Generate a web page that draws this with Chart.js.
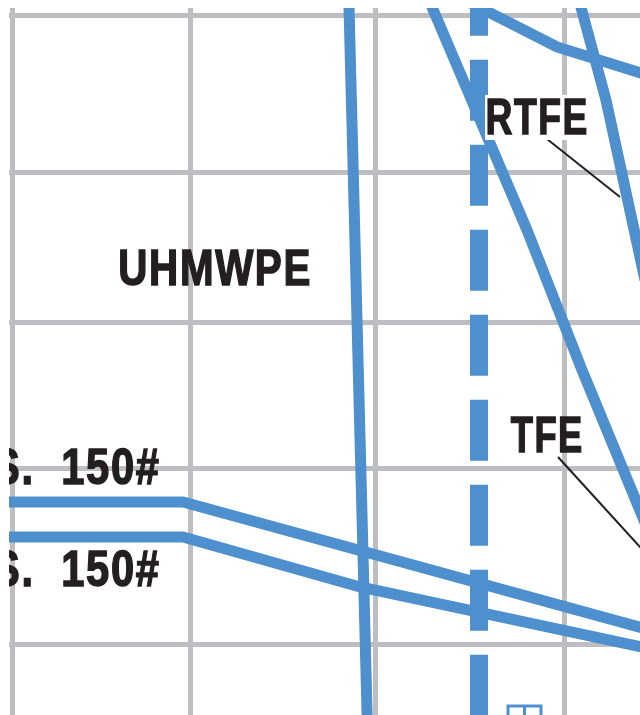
<!DOCTYPE html>
<html>
<head>
<meta charset="utf-8">
<script src="https://cdn.jsdelivr.net/npm/chart.js@4/dist/chart.umd.min.js"></script>
<style>
  html, body { margin: 0; padding: 0; background: #fff; }
  body { width: 640px; height: 715px; position: relative; overflow: hidden; }
  #ptChart { position: absolute; left: 9px; top: 8px; }
</style>
</head>
<body>
<canvas id="ptChart" width="631" height="707"></canvas>
<script>
// grid positions (chart units)
const xGrid = [0, 178.5, 363.5, 552.5];
const yGrid = [0, 175.5, 321.5, 471.5, 628.5];

// curves, as [x, y] pairs in chart units
const uhmwpeLine = [[336.7, 649], [355.5, -86]];
const dashedLimit = [[467, 669.3], [467, -90]];
const tfeLine = [[417, 644], [515, 414], [570, 274], [648, 85]];
const kneeLine = [[448, 646.5], [545, 597], [648, 565]];
const rtfeLine = [[567, 644], [594, 544], [633, 364]];
const class150Upper = [[-22, 142], [171, 142], [648, 11.3]];
const class150Lower = [[-22, 107], [171, 107], [348, 57], [648, -7]];

// label leader lines
const rtfeLeader = [[535, 505], [608, 447]];
const tfeLeader = [[546, 187], [638, 86]];

// small symbol at the bottom edge
const symbolPos = [[512.5, -78.5]];

const labels = [
  { text: 'RTFE', x: 475, y: 509, w: 100, bg: [473, 549, 578, 504] },
  { text: 'UHMWPE', x: 108, y: 358, w: 190 },
  { text: 'TFE', x: 498, y: 191, w: 72 },
  { text: 'S.  150#', fit: '150#', x: 147, y: 159, w: 96, anchor: 'right' },
  { text: 'S.  150#', fit: '150#', x: 147, y: 57.5, w: 96, anchor: 'right' }
];

const BLUE = '#4e8fcd';
const INK = '#231f20';
const pts = arr => arr.map(p => ({ x: p[0], y: p[1] }));

function curve(data, extra) {
  return Object.assign({
    data: pts(data),
    showLine: true,
    borderColor: BLUE,
    borderWidth: 11,
    borderCapStyle: 'butt',
    borderJoinStyle: 'miter',
    pointRadius: 0,
    fill: false,
    tension: 0
  }, extra || {});
}

const labelPlugin = {
  id: 'labels',
  afterDatasetsDraw(chart) {
    const ctx = chart.ctx;
    const xs = chart.scales.x, ys = chart.scales.y;
    const lw = 1.5;
    ctx.save();
    ctx.font = 'bold 50px "Liberation Sans Narrow", "Liberation Sans", Arial, sans-serif';
    ctx.letterSpacing = '2px';
    ctx.textBaseline = 'alphabetic';
    ctx.textAlign = 'left';
    for (const l of labels) {
      if (l.bg) {
        const x0 = xs.getPixelForValue(l.bg[0]), y0 = ys.getPixelForValue(l.bg[1]);
        const x1 = xs.getPixelForValue(l.bg[2]), y1 = ys.getPixelForValue(l.bg[3]);
        ctx.fillStyle = '#fff';
        ctx.fillRect(x0, y0, x1 - x0, y1 - y0);
      }
      const fm = ctx.measureText(l.fit || l.text);
      const sx = (l.w - lw) / (fm.actualBoundingBoxLeft + fm.actualBoundingBoxRight);
      const m = ctx.measureText(l.text);
      const px = xs.getPixelForValue(l.x), py = ys.getPixelForValue(l.y) - lw / 2;
      const ox = l.anchor === 'right'
        ? px - lw / 2 - sx * m.actualBoundingBoxRight
        : px + lw / 2 + sx * m.actualBoundingBoxLeft;
      ctx.save();
      ctx.translate(ox, py);
      ctx.scale(sx, 1);
      ctx.fillStyle = INK;
      ctx.strokeStyle = INK;
      ctx.lineWidth = lw;
      ctx.lineJoin = 'miter';
      ctx.fillText(l.text, 0, 0);
      ctx.strokeText(l.text, 0, 0);
      ctx.restore();
    }
    ctx.restore();
  }
};

const ctx = document.getElementById('ptChart').getContext('2d');
new Chart(ctx, {
  type: 'scatter',
  data: {
    datasets: [
      curve(uhmwpeLine),
      curve(dashedLimit, { borderWidth: 18, borderDash: [61, 24] }),
      curve(tfeLine),
      curve(kneeLine),
      curve(rtfeLine),
      curve(class150Upper),
      curve(class150Lower),
      curve(rtfeLeader, { borderColor: INK, borderWidth: 2 }),
      curve(tfeLeader, { borderColor: INK, borderWidth: 2 }),
      {
        data: pts(symbolPos),
        pointStyle: 'rect',
        pointRadius: 23.3,
        pointBorderWidth: 3,
        pointBorderColor: BLUE,
        pointBackgroundColor: 'rgba(0,0,0,0)'
      },
      {
        data: pts(symbolPos),
        pointStyle: 'line',
        rotation: 90,
        pointRadius: 16.5,
        pointBorderWidth: 3,
        pointBorderColor: BLUE
      }
    ]
  },
  options: {
    responsive: false,
    animation: false,
    events: [],
    layout: { padding: 0, autoPadding: false },
    plugins: { legend: { display: false }, tooltip: { enabled: false } },
    scales: {
      x: {
        type: 'linear', min: -3, max: 628,
        border: { display: false },
        grid: { color: '#bdbec2', lineWidth: 5, drawTicks: false },
        ticks: { display: false },
        afterBuildTicks: a => { a.ticks = xGrid.map(v => ({ value: v })); },
        afterFit: s => { s.height = 0; }
      },
      y: {
        type: 'linear', min: -71, max: 636,
        border: { display: false },
        grid: { color: '#bdbec2', lineWidth: 5, drawTicks: false },
        ticks: { display: false },
        afterBuildTicks: a => { a.ticks = yGrid.map(v => ({ value: v })); },
        afterFit: s => { s.width = 0; }
      }
    }
  },
  plugins: [labelPlugin]
});
</script>
</body>
</html>
